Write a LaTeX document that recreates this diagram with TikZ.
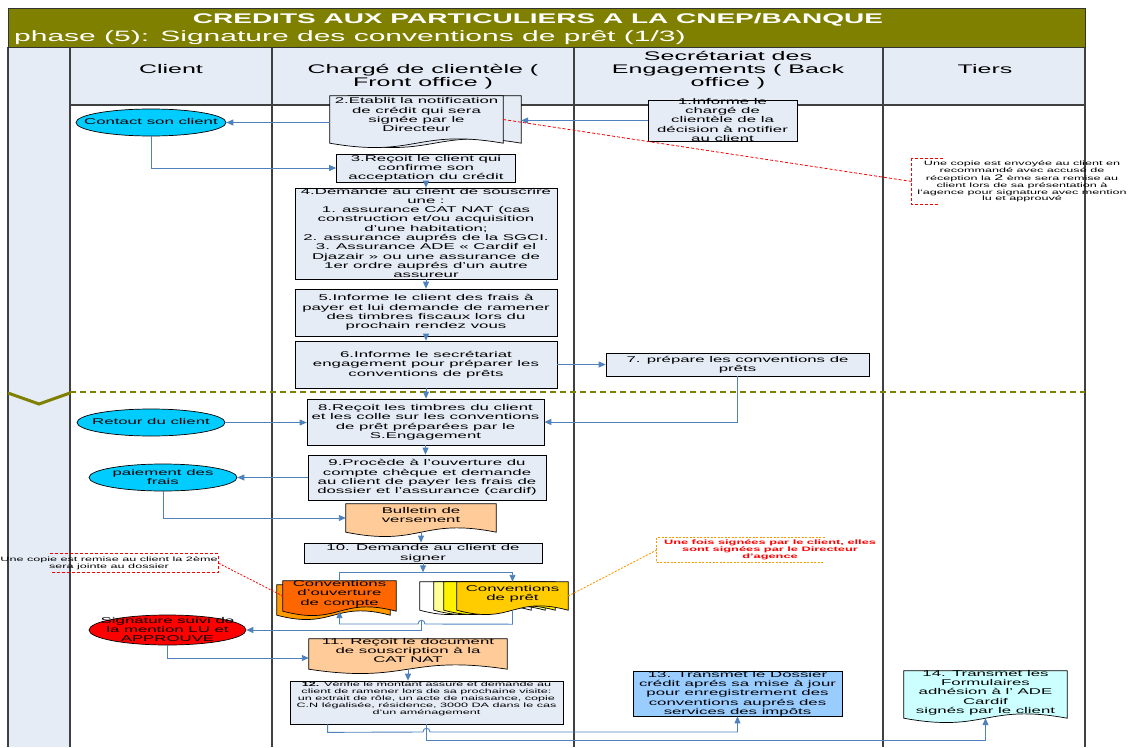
\documentclass[tikz,border=0pt]{standalone}
\usepackage{fontspec}
\setmainfont{Liberation Sans}[FakeStretch=2]
\usetikzlibrary{positioning, arrows.meta, shapes.geometric, calc}

\pgfdeclarelayer{lanes}
\pgfdeclarelayer{background}
\pgfsetlayers{lanes,background,main}

\definecolor{olivebar}{RGB}{128,128,0}
\definecolor{paleblue}{RGB}{230,236,246}
\definecolor{flowblue}{RGB}{79,129,189}
\definecolor{skyfill}{RGB}{0,204,255}
\definecolor{peach}{RGB}{255,204,153}
\definecolor{convorange}{RGB}{255,102,0}
\definecolor{convback}{RGB}{255,153,0}
\definecolor{gold}{RGB}{255,204,0}
\definecolor{lightyellow}{RGB}{255,255,153}
\definecolor{dossierblue}{RGB}{153,204,255}
\definecolor{palecyan}{RGB}{204,255,255}
\definecolor{amber}{RGB}{255,153,0}

% font sizes (1pt = 1px of the chart)
\newcommand\bodyfont{\fontsize{8.4}{9.3}\selectfont}
\newcommand\tinyfont{\fontsize{6.3}{6.9}\selectfont}
\newcommand\headfont{\fontsize{12.5}{13}\selectfont}

% centred text block that leaves the size of its node alone
\newcommand\tx[2][0pt]{\raisebox{\dimexpr#1-0.3em\relax}[0pt][0pt]{\makebox[0pt]{\begin{tabular}{@{}c@{}}#2\end{tabular}}}}

% one page with a wavy lower edge, behind node #1, shifted by (#2,#3)
\newcommand\docpage[4]{%
  \filldraw[fill=#4, draw=black, line width=0.7pt]
    ($(#1.north west)+(#2,#3)$) -- ($(#1.north east)+(#2,#3)$) -- ($(#1.south east)+(#2,#3)$)
    .. controls ($(#1.south)+(#2,#3)+(0,-15)$) and ($(#1.south)+(#2,#3)+(0,15)$)
    .. ($(#1.south west)+(#2,#3)$) -- cycle;}

\begin{document}
\begin{tikzpicture}[
    x=1pt, y=-1pt,
    >={Triangle[length=7pt,width=6pt]},
    % boxes
    stepbox/.style={rectangle, draw=black, line width=0.7pt, fill=paleblue, inner sep=0pt, font=\bodyfont},
    docbox/.style={rectangle, inner sep=0pt, font=\bodyfont},
    terminal/.style={ellipse, draw=black, line width=0.7pt, inner sep=0pt, font=\bodyfont},
    notebox/.style={rectangle, inner sep=0pt, font=\tinyfont},
    % lines
    flow/.style={->, draw=flowblue, line width=0.9pt},
    link/.style={draw=flowblue, line width=0.9pt},
    laneline/.style={draw=black!75, line width=1.2pt},
    notered/.style={draw=red, line width=0.8pt, dash pattern=on 3pt off 2pt},
    noteamber/.style={draw=amber, line width=0.9pt, dash pattern=on 2pt off 1.5pt}
]
\useasboundingbox (0,0) rectangle (1132,747);

%% --- SWIMLANES ---
\begin{pgfonlayer}{lanes}
    \fill[paleblue] (70,47) rectangle (1085,105);
    \fill[paleblue] (8,47) rectangle (70,747);
    \foreach \lx in {8,70,272,574,883,1085}
        \draw[laneline] (\lx,47) -- (\lx,747);
    \draw[laneline] (8,47) -- (1085,47);
    \draw[laneline] (70,105) -- (1085,105);
    % phase separator
    \draw[olivebar, line width=1.8pt, dash pattern=on 6pt off 4pt] (70,392) -- (1085,392);
    \draw[olivebar, line width=3pt] (8,393) -- (39,404) -- (70,393);
\end{pgfonlayer}

% Title
\node[draw=black!80, fill=olivebar, minimum width=1077pt, minimum height=39pt, inner sep=0pt] (bar) at (546.5,27.5) {};
\node[font=\fontsize{14}{16}\bfseries, text=white, inner sep=0pt] (ttl) at (538,19.5) {CREDITS AUX PARTICULIERS A LA CNEP/BANQUE};
\node[font=\fontsize{15}{17}\selectfont, text=white, inner sep=0pt, anchor=base west] (phase) at (14,41) {phase (5): Signature des conventions de prêt (1/3)};

% Lane headers
\node[font=\headfont] (hclient) at (171,70) {\tx{Client}};
\node[font=\headfont] (hfront) at (423,76.5) {\tx{Chargé de clientèle (\\ Front office )}};
\node[font=\headfont] (hback) at (728,70) {\tx{Secrétariat des\\Engagements ( Back\\office )}};
\node[font=\headfont] (htiers) at (985,70) {\tx{Tiers}};

%% --- STEPS ---
\node[stepbox, minimum width=149pt, minimum height=41pt] (s1) at (722.5,120.5) {\tx{1.Informe le\\chargé de\\clientèle de la\\décision à notifier\\au client}};
\node[docbox, minimum width=173pt, minimum height=47pt] (s2) at (416.5,119.5) {\tx[4pt]{2.Etablit la notification\\de crédit  qui sera\\signée par le\\Directeur}};
\coordinate (s2back) at ([xshift=18pt]s2.east);
\node[terminal, fill=skyfill, minimum width=150pt, minimum height=27pt] (contact) at (151,122.5) {\tx{Contact son client}};
\node[stepbox, minimum width=179pt, minimum height=28pt] (s3) at (426,168) {\tx{3.Reçoit le client qui\\confirme son\\acceptation du crédit}};
\node[stepbox, minimum width=262pt, minimum height=91pt] (s4) at (426,233.5) {\tx{4.Demande au client de souscrire\\une :\\1. assurance CAT NAT (cas\\construction et/ou acquisition\\d'une habitation;\\2. assurance auprés de la SGCI.\\3. Assurance ADE « Cardif el\\Djazair » ou une assurance de\\1er ordre auprés d'un autre\\assureur}};
\node[stepbox, minimum width=262pt, minimum height=47pt] (s5) at (426,312.5) {\tx{5.Informe le client des frais à\\payer et lui demande de ramener\\des timbres fiscaux lors du\\prochain rendez vous}};
\node[stepbox, minimum width=262pt, minimum height=47pt] (s6) at (426,364.5) {\tx{6.Informe le secrétariat\\engagement pour préparer les\\conventions de prêts}};
\node[stepbox, minimum width=263pt, minimum height=23pt] (s7) at (737.5,364.5) {\tx{7. prépare les conventions de\\prêts}};
\node[stepbox, minimum width=237pt, minimum height=46pt] (s8) at (425.5,422) {\tx{8.Reçoit les timbres du client\\et les colle sur les conventions\\de prêt préparées par le\\S.Engagement}};
\node[terminal, fill=skyfill, minimum width=148pt, minimum height=27pt] (retour) at (151,422.5) {\tx{Retour du client}};
\node[stepbox, minimum width=238pt, minimum height=45pt] (s9) at (427,477.5) {\tx{9.Procède à l'ouverture du\\compte chèque et demande\\au client de payer les frais de\\dossier et l'assurance (cardif)}};
\node[terminal, fill=skyfill, minimum width=148pt, minimum height=27pt] (paiement) at (163,477.5) {\tx{paiement des\\frais}};
\node[docbox, minimum width=150pt, minimum height=28pt] (bulletin) at (421,518) {\tx[2.5pt]{Bulletin de\\versement}};
\node[stepbox, minimum width=238pt, minimum height=20pt] (s10) at (423,553) {\tx{10. Demande au client de\\signer}};
\node[docbox, minimum width=113pt, minimum height=30pt] (cvo) at (339.5,596) {\tx[2.5pt]{Conventions\\d'ouverture\\de compte}};
\node[docbox, minimum width=111pt, minimum height=28pt] (cvp) at (512.5,596) {\tx[2.5pt]{Conventions\\de prêt}};
\node[terminal, fill=red, minimum width=157pt, minimum height=30pt] (signature) at (167.5,630) {\tx{Signature suivi de\\la mention LU et\\APPROUVE}};
\node[docbox, minimum width=198pt, minimum height=30pt] (s11) at (408,654) {\tx[3pt]{11. Reçoit le document\\de souscription à la\\CAT NAT}};
\node[stepbox, font=\tinyfont, minimum width=273pt, minimum height=43pt] (s12) at (426.5,702.5) {\tx[4pt]{\textbf{12.} Vérifie le montant assuré  et demande au\\client de ramener lors de sa prochaine visite:\\un extrait de rôle, un acte de naissance, copie\\C.N légalisée, résidence, 3000 DA dans le cas\\d'un aménagement}};
\node[stepbox, fill=dossierblue, minimum width=209pt, minimum height=45pt] (s13) at (737.5,693.5) {\tx{13. Transmet le Dossier\\crédit aprés sa mise à jour\\pour enregistrement des\\conventions auprés des\\services des impôts}};
\node[docbox, minimum width=163pt, minimum height=47pt] (s14) at (985.5,694.5) {\tx[2pt]{14. Transmet les\\Formulaires\\adhésion à l' ADE\\Cardif\\signés par le client}};

% Document pages
\begin{pgfonlayer}{background}
    \docpage{s2}{18}{0}{paleblue}
    \docpage{s2}{0}{0}{paleblue}
    \docpage{bulletin}{0}{0}{peach}
    \docpage{cvo}{-6}{4}{convback}
    \docpage{cvo}{0}{0}{convorange}
    \docpage{cvp}{-37}{0}{white}
    \docpage{cvp}{-23}{0}{lightyellow}
    \docpage{cvp}{-13}{0}{yellow}
    \docpage{cvp}{0}{0}{gold}
    \docpage{s11}{0}{0}{peach}
    \docpage{s14}{0}{0}{palecyan}
\end{pgfonlayer}

%% --- NOTES ---
\node[notebox, minimum width=220pt, minimum height=45pt] (note1) at (1022,181.5) {\tx{Une copie est envoyée au client en\\recommandé avec accusé de\\réception la {\fontsize{8}{6.9}\selectfont 2} ème sera remise au\\client lors de  sa présentation à\\l'agence pour signature avec mention\\lu et approuvé}};
\draw[notered] ([xshift=31pt]note1.north west) -- (note1.north west) -- (note1.south west) -- ([xshift=27pt]note1.south west);
\node[notebox, font=\fontsize{6.4}{7}\bfseries, text=red, minimum width=226pt, minimum height=24pt] (note2) at (770,550) {\tx{Une fois signées par le client, elles\\sont signées par le Directeur\\d'agence}};
\draw[noteamber] ([xshift=168pt]note2.north west) -- (note2.north west) -- (note2.south west) -- ([xshift=168pt]note2.south west);
\node[notebox, minimum width=218pt, minimum height=18pt] (note3) at (109,563) {\tx{Une copie est remise au client la 2ème\\sera jointe au dossier}};
\draw[notered] ([xshift=-168pt]note3.north east) -- (note3.north east) -- (note3.south east) -- ([xshift=-168pt]note3.south east);

%% --- CONNECTORS ---
\draw[flow] (s1.west) -- (s1.west -| s2back);
\draw[flow] (s2.west |- contact.east) -- (contact.east);
\draw[flow] (contact.south) |- (s3.west);
\draw[flow] (s3.south) -- (s4.north);
\draw[flow] (s4.south) -- (s5.north);
\draw[flow] (s5.south) -- (s6.north);
\draw[flow] (s6.east) -- (s7.west);
\draw[flow] (s6.south) -- (s6.south |- s8.north);
\draw[flow] (s7.south) |- (s8.east);
\draw[flow] (retour.east) -- (retour.east -| s8.west);
\draw[flow] (s8.south) -- (s8.south |- s9.north);
\draw[flow] (s9.west) -- (paiement.east);
\draw[flow] (paiement.south) |- (bulletin.west);
\draw[flow] (bulletin.south) -- (bulletin.south |- s10.north);
\coordinate (split) at ([yshift=-9pt]s10.south);
\draw[flow] (s10.south) -- (split);
\draw[link] (split) -| (cvo.north);
\draw[flow] (split) -| (cvp.north);
% signed conventions go back to the client
\draw[flow] (cvp.south) -- ++(0,14) -- (425,624) .. controls (425,619) and (418,619) .. (418,624) -| (cvo.south);
\coordinate (jsig) at (421.5,620.5);
\draw[flow] (jsig) |- (signature.east);
\draw[flow] (signature.south) |- ([yshift=-4pt]s11.west);
\draw[flow] (s11.south) -- (s11.south |- s12.north);
\draw[flow] ([xshift=38pt]s12.south west) -- ++(0,8) -- (423,732) .. controls (423,727) and (430,727) .. (430,732) -| (s13.south);
\draw[flow] (s12.south) -- ++(0,16) -| (s14.south);
% notes
\draw[notered] (s2.east) -- (note1.west);
\draw[noteamber] (cvp.east) -- (note2.west);
\draw[notered, dash pattern=on 2pt off 1.5pt] (cvo.west) -- (note3.east);

\end{tikzpicture}
\end{document}
